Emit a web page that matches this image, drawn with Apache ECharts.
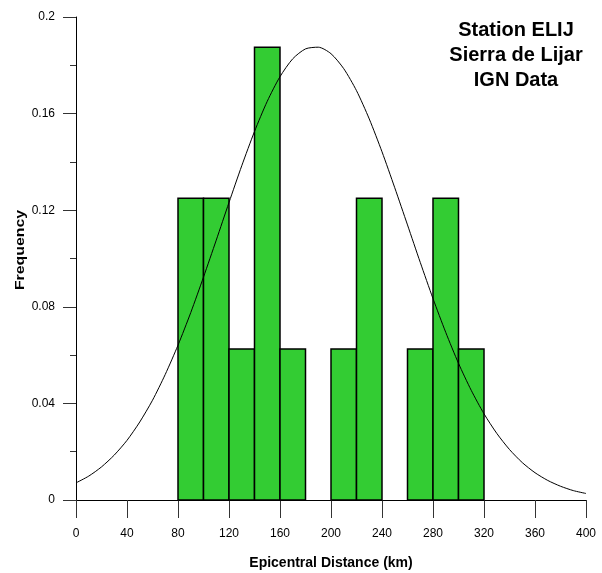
<!DOCTYPE html>
<html>
<head>
<meta charset="utf-8">
<script src="https://cdn.jsdelivr.net/npm/echarts@6/dist/echarts.min.js"></script>
<style>html,body{margin:0;padding:0;background:#fff}#c{width:602px;height:573px}</style>
</head>
<body>
<div id="c"></div>
<script>
// Histogram bins (km) and frequencies
var binStarts = [80, 100, 120, 140, 160, 180, 200, 220, 240, 260, 280, 300];
var binWidth = 20;
var frequencies = [0.125, 0.125, 0.0625, 0.1875, 0.0625, 0, 0.0625, 0.125, 0, 0.0625, 0.125, 0.0625];
// Fitted normal curve
var curveX = [0,10,20,30,40,50,60,70,80,90,100,110,120,130,140,150,160,170,180,190,200,210,220,230,240,250,260,270,280,290,300,310,320,330,340,350,360,370,380,390,400];
var curveY = [0.0071,0.0099,0.0137,0.0186,0.0247,0.0323,0.0413,0.0520,0.0641,0.0776,0.0923,0.1076,0.1232,0.1384,0.1526,0.1651,0.1753,0.1827,0.1868,0.1875,0.1848,0.1786,0.1695,0.1578,0.1442,0.1293,0.1139,0.0984,0.0834,0.0694,0.0566,0.0454,0.0357,0.0276,0.0209,0.0155,0.0113,0.0081,0.0057,0.0039,0.0027];
var xTicks = [0, 40, 80, 120, 160, 200, 240, 280, 320, 360, 400];
var yTicks = [0, 0.04, 0.08, 0.12, 0.16, 0.2];
var titleLines = ['Station ELIJ', 'Sierra de Lijar', 'IGN Data'];
var xTitle = 'Epicentral Distance (km)';
var yTitle = 'Frequency';

var FONT = 'Liberation Sans, Arial, sans-serif';
var chart = echarts.init(document.getElementById('c'), null, {renderer: 'canvas'});

var barData = binStarts.map(function (s, i) { return [s, s + binWidth, frequencies[i]]; })
  .filter(function (d) { return d[2] > 0; });
var lineData = curveX.map(function (x, i) { return [x, curveY[i]]; });

chart.setOption({
  animation: false,
  backgroundColor: '#fff',
  grid: {left: 76, right: 16, top: 17, bottom: 73, containLabel: false, outerBoundsMode: 'none'},
  xAxis: {
    type: 'value', min: 0, max: 400, interval: 40,
    name: xTitle, nameLocation: 'middle', nameGap: 56,
    nameTextStyle: {fontFamily: FONT, fontSize: 14, fontWeight: 'bold', color: '#000'},
    axisLine: {show: true, onZero: false, lineStyle: {color: '#000', width: 1}},
    axisTick: {show: true, inside: false, length: 18, lineStyle: {color: '#333', width: 1}},
    axisLabel: {margin: 28, fontFamily: FONT, fontSize: 12, color: '#000',
      formatter: function (v) { return xTicks.indexOf(v) >= 0 ? String(v) : ''; }},
    splitLine: {show: false}
  },
  yAxis: {
    type: 'value', min: 0, max: 0.2, interval: 0.04,
    axisLine: {show: true, lineStyle: {color: '#000', width: 1}},
    axisTick: {show: true, inside: false, length: 13, lineStyle: {color: '#333', width: 1}},
    minorTick: {show: true, splitNumber: 2, length: 6, lineStyle: {color: '#333', width: 1}},
    axisLabel: {margin: 21, fontFamily: FONT, fontSize: 12, color: '#000',
      formatter: function (v) {
        for (var i = 0; i < yTicks.length; i++) { if (Math.abs(v - yTicks[i]) < 1e-9) return String(yTicks[i]); }
        return '';
      }},
    splitLine: {show: false}
  },
  graphic: [
    {
      type: 'text', x: 516, y: 18, z: 10,
      style: {text: titleLines.join('\n'), fontFamily: FONT, fontSize: 20, fontWeight: 'bold',
        fill: '#000', align: 'center', verticalAlign: 'top', lineHeight: 25}
    },
    {
      type: 'text', x: 20, y: 250, rotation: Math.PI / 2, z: 10,
      style: {text: yTitle, fontFamily: FONT, fontSize: 13, fontWeight: 'bold',
        fill: '#000', align: 'center', verticalAlign: 'middle'},
      scaleX: 1.22
    }
  ],
  series: [
    {
      type: 'custom',
      data: barData,
      encode: {x: [0, 1], y: 2},
      renderItem: function (params, api) {
        var p0 = api.coord([api.value(0), api.value(2)]);
        var p1 = api.coord([api.value(1), 0]);
        return {
          type: 'rect',
          shape: {x: p0[0], y: p0[1], width: p1[0] - p0[0], height: p1[1] - p0[1]},
          style: {fill: '#33CC33', stroke: '#000', lineWidth: 1.5}
        };
      },
      z: 2
    },
    {
      type: 'line',
      data: lineData,
      smooth: 0.25,
      showSymbol: false,
      symbol: 'none',
      lineStyle: {color: '#000', width: 1},
      z: 3
    }
  ]
});
</script>
</body>
</html>
